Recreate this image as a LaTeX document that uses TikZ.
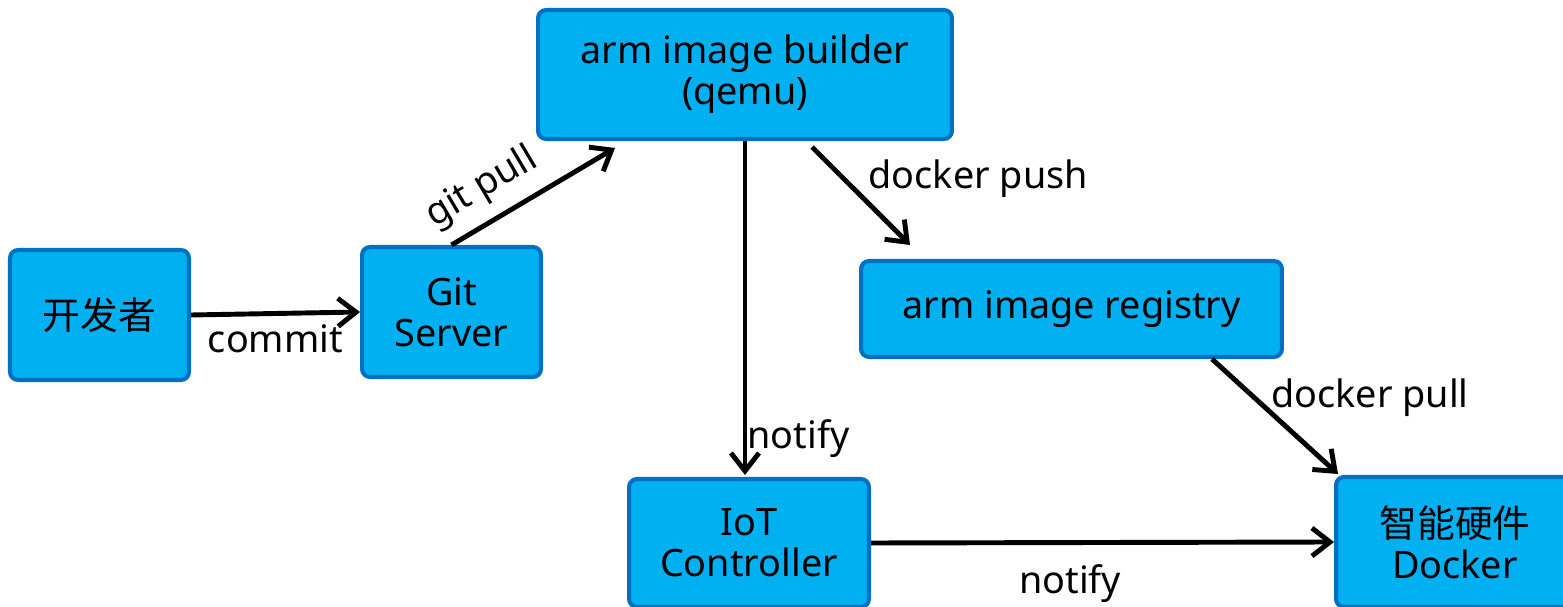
\documentclass[tikz,border=0pt]{standalone}
\usepackage{fontspec}
\setmainfont{Noto Sans}
\newfontfamily\cjk{Noto Sans CJK SC}
\usetikzlibrary{arrows.meta, calc}

\definecolor{boxfill}{HTML}{00B0F0}
\definecolor{boxline}{HTML}{0070C0}

\tikzset{
  box/.style={draw=boxline, fill=boxfill, line width=2.3pt, rounded corners=0.16cm,
    align=center, inner sep=0pt, font=\fontsize{21.5}{23.5}\selectfont},
  flow/.style={->, line width=2.8pt},
  lbl/.style={font=\fontsize{21.5}{23.5}\selectfont, inner sep=0pt}
}

\begin{document}
\begin{tikzpicture}[x=0.02cm, y=-0.02cm, >={Straight Barb[length=3.6mm,width=5.6mm]}]
			\useasboundingbox (0,0) rectangle (1563,607);
			
			\node[box, minimum width=3.58cm, minimum height=2.6cm] (dev) at (99.5,315) {\cjk 开发者};
			\node[box, minimum width=3.58cm, minimum height=2.6cm] (git) at (451.5,312) {Git\\Server};
			\node[box, minimum width=8.28cm, minimum height=2.58cm] (builder) at (745,74.5) {arm image builder\\(qemu)};
			\node[box, minimum width=8.42cm, minimum height=1.92cm] (registry) at (1071.5,309) {arm image registry};
			\node[box, minimum width=4.8cm, minimum height=2.56cm] (iot) at (749,543) {IoT\\Controller};
			\node[box, minimum width=4.76cm, minimum height=2.6cm] (hw) at (1455,542) {{\cjk 智能硬件}\\Docker};
			
			\draw[flow] (dev.east) -- (git.west) node[lbl, midway, below=5pt] {commit};
			\draw[flow] (git.north) -- ($(builder.south)+(-130,7)$) node[lbl, pos=.29, sloped, above=7pt] {git pull};
			\draw[flow] ($(builder.south)+(67,6)$) -- ($(registry.north west)+(51,-14)$) node[lbl, pos=.32, right=13pt] {docker push};
			\draw[flow] (builder.south) -- ($(builder.south |- iot.north)+(0,-2)$) node[lbl, pos=.89, anchor=west] {notify};
			\draw[flow] ($(registry.south east)+(-72,0)$) -- ($(hw.north west)+(4,-1)$) node[lbl, pos=.34, right=8pt] {docker pull};
			\draw[flow] (iot.east) -- (hw.west) node[lbl, pos=.43, below=11pt] {notify};
\end{tikzpicture}
\end{document}
